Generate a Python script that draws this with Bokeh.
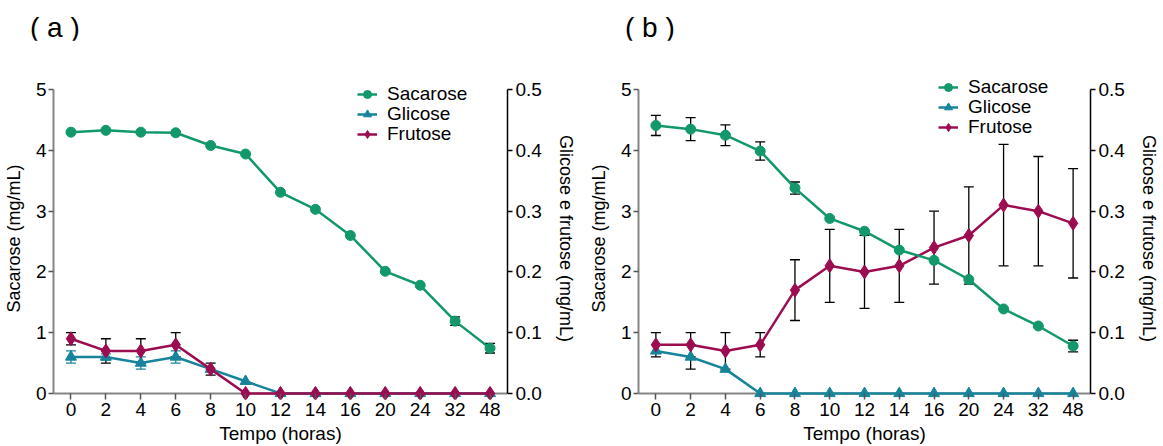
from bokeh.plotting import figure
from bokeh.models import (Range1d, LinearAxis, SingleIntervalTicker, ColumnDataSource,
                          Whisker, TeeHead, Legend, LegendItem, Span, FactorRange,
                          PrintfTickFormatter, Div)
from bokeh.layouts import row, column
from bokeh.embed import file_html
from bokeh.resources import INLINE

# ---------------- data ----------------
times = ["0", "2", "4", "6", "8", "10", "12", "14", "16", "20", "24", "32", "48"]
series_names = ["Sacarose", "Glicose", "Frutose"]

# panel (a)  -- sacarose on left axis (mg/mL), glicose/frutose on right axis (mg/mL)
sac_a = [4.30, 4.33, 4.30, 4.29, 4.08, 3.94, 3.31, 3.03, 2.60, 2.01, 1.78, 1.19, 0.745]
sac_a_err = [0, 0, 0, 0, 0, 0, 0, 0, 0, 0, 0, 0.07, 0.08]
gli_a = [0.06, 0.06, 0.05, 0.06, 0.04, 0.02, 0, 0, 0, 0, 0, 0, 0]
gli_a_err = [0.01, 0.005, 0.01, 0.01, 0, 0, 0, 0, 0, 0, 0, 0, 0]
fru_a = [0.09, 0.07, 0.07, 0.08, 0.04, 0, 0, 0, 0, 0, 0, 0, 0]
fru_a_err = [0.01, 0.02, 0.02, 0.02, 0.01, 0, 0, 0, 0, 0, 0, 0, 0]

# panel (b)
sac_b = [4.41, 4.35, 4.25, 3.99, 3.38, 2.88, 2.67, 2.36, 2.19, 1.875, 1.39, 1.11, 0.78]
sac_b_err = [0.165, 0.19, 0.17, 0.15, 0.10, 0, 0, 0, 0, 0, 0, 0, 0.095]
gli_b = [0.07, 0.06, 0.04, 0, 0, 0, 0, 0, 0, 0, 0, 0, 0]
gli_b_err = [0, 0.02, 0, 0, 0, 0, 0, 0, 0, 0, 0, 0, 0]
fru_b = [0.08, 0.08, 0.07, 0.08, 0.17, 0.21, 0.20, 0.21, 0.24, 0.26, 0.31, 0.30, 0.28]
fru_b_err = [0.02, 0.02, 0.03, 0.02, 0.05, 0.06, 0.06, 0.06, 0.06, 0.08, 0.10, 0.09, 0.09]

GREEN = "#12986a"
TEAL = "#17849b"
CRIMSON = "#9b0c50"
FONT = "Liberation Sans"
GRAY = "#858585"
FS = "19px"
HEAD_H = 40
YTOP = 5.2


def whisker(p, vals, errs, color, range_name="default"):
    xs = [t for t, e in zip(times, errs) if e > 0]
    up = [v + e for v, e in zip(vals, errs) if e > 0]
    lo = [v - e for v, e in zip(vals, errs) if e > 0]
    src = ColumnDataSource(dict(t=xs, upper=up, lower=lo))
    w = Whisker(source=src, base="t", upper="upper", lower="lower",
                line_color=color, line_width=1.3,
                upper_head=TeeHead(size=10, line_color=color, line_width=1.3),
                lower_head=TeeHead(size=10, line_color=color, line_width=1.3),
                y_range_name=range_name)
    p.add_layout(w)


def make_panel(sac, sac_err, gli, gli_err, fru, fru_err, gli_err_color, err_color,
               width, bl, br, leg_x, leg_ys):
    p = figure(width=width, height=446 - HEAD_H, x_range=FactorRange(*times),
               y_range=Range1d(-0.1, YTOP),
               output_backend="svg", toolbar_location=None,
               min_border_left=bl, min_border_right=br, min_border_top=37, min_border_bottom=47)
    p.extra_y_ranges = {"r": Range1d(-0.01, YTOP / 10)}
    p.outline_line_color = None
    p.grid.visible = False
    p.background_fill_color = None
    p.border_fill_color = "white"

    # x axis line at y = 0
    p.add_layout(Span(location=0, dimension="width", line_color=GRAY, line_width=2, level="underlay"))

    xa = p.xaxis[0]
    xa.axis_line_color = None
    xa.major_tick_out = 0
    xa.major_tick_in = 6
    xa.major_tick_line_color = "#555555"
    xa.major_tick_line_width = 1.5
    xa.major_label_standoff = 3
    xa.major_label_text_font = FONT
    xa.major_label_text_font_size = FS
    xa.major_label_text_color = "black"
    xa.axis_label = "Tempo (horas)"
    xa.axis_label_text_font = FONT
    xa.axis_label_text_font_size = FS
    xa.axis_label_text_font_style = "normal"
    xa.axis_label_text_color = "black"
    xa.axis_label_standoff = 4

    ya = p.yaxis[0]
    ya.ticker = SingleIntervalTicker(interval=1, num_minor_ticks=0)
    ya.bounds = (0, 5)
    ya.axis_line_color = GRAY
    ya.axis_line_width = 2
    ya.major_tick_line_color = "#555555"
    ya.major_tick_line_width = 1.5
    ya.major_tick_out = 5
    ya.major_tick_in = 0
    ya.minor_tick_line_color = None
    ya.major_label_standoff = 2
    ya.major_label_text_font = FONT
    ya.major_label_text_font_size = FS
    ya.major_label_text_color = "black"
    ya.axis_label = "Sacarose (mg/mL)"
    ya.axis_label_text_font = FONT
    ya.axis_label_text_font_size = "18px"
    ya.axis_label_text_font_style = "normal"
    ya.axis_label_text_color = "black"
    ya.axis_label_standoff = 9

    ra = LinearAxis(y_range_name="r", ticker=SingleIntervalTicker(interval=0.1, num_minor_ticks=0),
                    formatter=PrintfTickFormatter(format="%.1f"))
    ra.bounds = (0, 0.5)
    ra.axis_line_color = "black"
    ra.axis_line_width = 1.5
    ra.major_tick_line_color = "black"
    ra.major_tick_line_width = 1.5
    ra.major_tick_out = 5
    ra.major_tick_in = 0
    ra.minor_tick_line_color = None
    ra.major_label_standoff = 3
    ra.major_label_text_font = FONT
    ra.major_label_text_font_size = FS
    ra.major_label_text_color = "black"
    ra.axis_label = "Glicose e frutose (mg/mL)"
    ra.axis_label_text_font = FONT
    ra.axis_label_text_font_size = "18px"
    ra.axis_label_text_font_style = "normal"
    ra.axis_label_text_color = "black"
    ra.axis_label_standoff = 11
    p.add_layout(ra, "right")

    # series
    gl = p.line(times, gli, color=TEAL, line_width=2.5, y_range_name="r")
    gm = p.scatter(times, gli, marker="triangle", size=11, color=TEAL, y_range_name="r")
    fl = p.line(times, fru, color=CRIMSON, line_width=2.5, y_range_name="r")
    fm = p.scatter(times, fru, marker="diamond", size=14, color=CRIMSON, y_range_name="r")
    sl = p.line(times, sac, color=GREEN, line_width=2.5)
    sm = p.scatter(times, sac, marker="circle", size=10, color=GREEN)

    whisker(p, gli, gli_err, gli_err_color, "r")
    whisker(p, fru, fru_err, err_color, "r")
    whisker(p, sac, sac_err, err_color)

    rends = [[sl, sm], [gl, gm], [fl, fm]]
    for name, rr, ly in zip(series_names, rends, leg_ys):
        legend = Legend(items=[LegendItem(label=name, renderers=rr)],
                        location=(leg_x, ly), background_fill_alpha=0, border_line_color=None,
                        label_text_font=FONT, label_text_font_size=FS, label_text_color="black",
                        glyph_width=20, glyph_height=20, label_height=20, label_standoff=10,
                        spacing=0, padding=0, margin=0)
        p.add_layout(legend)
    return p


def tag_div(text, width, pad_left):
    return Div(text=text, width=width, height=HEAD_H, margin=0,
               styles={"font-family": FONT, "font-size": "28px", "line-height": "30px",
                       "padding-left": f"{pad_left}px", "padding-top": "13px",
                       "box-sizing": "border-box", "color": "black"})


pa = make_panel(sac_a, sac_a_err, gli_a, gli_a_err, fru_a, fru_a_err, TEAL, "black",
                580, 53, 73, 304, (294, 274, 254))
pb = make_panel(sac_b, sac_b_err, gli_b, gli_b_err, fru_b, fru_b_err, "black", "black",
                583, 58, 73, 300, (301, 281, 261))

layout = column(row(tag_div("( a )", 580, 30), tag_div("( b )", 583, 45)),
                row(pa, pb))
open("out.html", "w").write(file_html(layout, INLINE))
